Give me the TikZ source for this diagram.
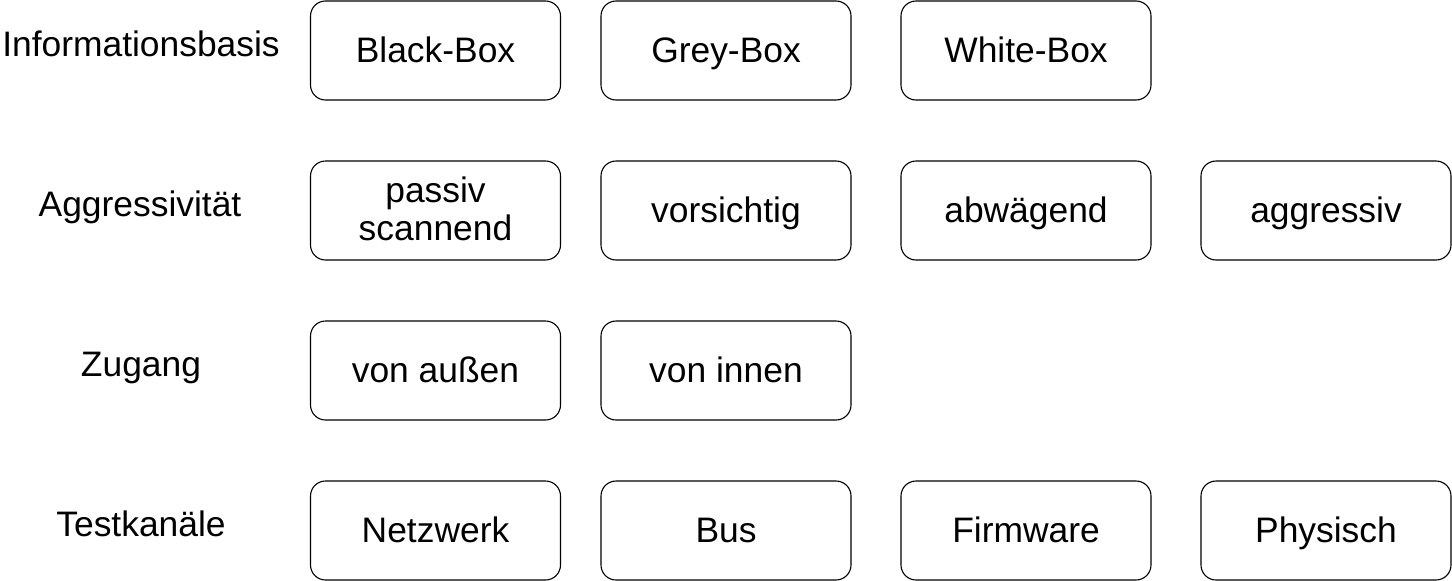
\documentclass[tikz,border=0pt]{standalone}
\usepackage{fontspec}
\setmainfont{Liberation Sans}
\begin{document}
\begin{tikzpicture}[x=1pt,y=-1pt,
  box/.style={draw=black,line width=1.1pt,rounded corners=15pt,minimum width=250pt,minimum height=99pt,inner sep=0pt,align=center,text height=26pt,text depth=1.6pt,font=\fontsize{35.4}{38}\selectfont},
  lab/.style={inner sep=0pt,anchor=base,font=\fontsize{35.4}{38}\selectfont}]
\useasboundingbox (0,0) rectangle (1452,581);
\node[lab] (l1) at (141,56.5) {Informationsbasis};
\node[lab] (l2) at (140,216.5) {Aggressivität};
\node[lab] (l3) at (141,376.5) {Zugang};
\node[lab] (l4) at (141,536.5) {Testkanäle};
\node[box] (a1) at (435.5,50.5) {Black-Box};
\node[box] (a2) at (726,50.5) {Grey-Box};
\node[box] (a3) at (1026,50.5) {White-Box};
\node[box,text height=62pt] (b1) at (435.5,210.5) {passiv\\scannend};
\node[box] (b2) at (726,210.5) {vorsichtig};
\node[box] (b3) at (1026,210.5) {abwägend};
\node[box] (b4) at (1326,210.5) {aggressiv};
\node[box] (c1) at (435.5,370.5) {von außen};
\node[box] (c2) at (726,370.5) {von innen};
\node[box] (d1) at (435.5,530.5) {Netzwerk};
\node[box] (d2) at (726,530.5) {Bus};
\node[box] (d3) at (1026,530.5) {Firmware};
\node[box] (d4) at (1326,530.5) {Physisch};
\end{tikzpicture}
\end{document}
